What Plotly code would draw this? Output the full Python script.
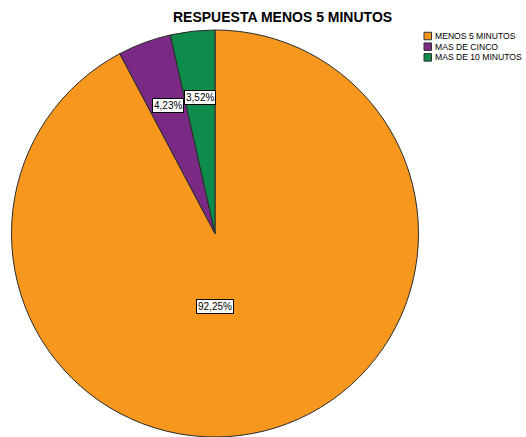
import math
import plotly.graph_objects as go

# Response-time categories and their percentages
labels = ["MENOS 5 MINUTOS", "MAS DE CINCO", "MAS DE 10 MINUTOS"]
values = [92.25, 4.23, 3.52]
colors = ["#F7971E", "#7A2A84", "#0E8C4C"]
title_text = "RESPUESTA MENOS 5 MINUTOS"

W, H = 526, 437

# Pie area in pixels (left, right, top, bottom)
px_left, px_right, px_top, px_bottom = 10, 420, 30, 437

fig = go.Figure(
    go.Pie(
        labels=labels,
        values=values,
        marker=dict(colors=colors, line=dict(color="#2a2a2a", width=1)),
        sort=False,
        direction="clockwise",
        rotation=0,
        textinfo="none",
        hoverinfo="label+percent",
        showlegend=False,
        domain=dict(
            x=[px_left / W, px_right / W],
            y=[1 - px_bottom / H, 1 - px_top / H],
        ),
    )
)

# Geometry of the drawn pie (radius follows the smaller domain side)
radius = min(px_right - px_left, px_bottom - px_top) / 2
cx = (px_left + px_right) / 2
cy = (px_top + px_bottom) / 2

total = sum(values)
annotations = []
cum = 0.0
for i, v in enumerate(values):
    mid = (cum + v / 2) / total * 2 * math.pi
    cum += v
    if v / total > 0.5:
        # large slice: label sits straight below the centre
        lx, ly = cx, cy + 0.36 * radius
    else:
        r = 0.67 * radius
        lx = cx + r * math.sin(mid)
        ly = cy - r * math.cos(mid)
    annotations.append(
        dict(
            x=lx / W,
            y=1 - ly / H,
            xref="paper",
            yref="paper",
            xanchor="center",
            yanchor="middle",
            text=f"{v:.2f}".replace(".", ",") + "%",
            showarrow=False,
            font=dict(family="Liberation Sans, Arial", size=10, color="black"),
            bgcolor="white",
            bordercolor="black",
            borderwidth=1,
            borderpad=1,
        )
    )

# Title
annotations.append(
    dict(
        x=282 / W,
        y=1 - 17 / H,
        xref="paper",
        yref="paper",
        xanchor="center",
        yanchor="middle",
        text=f"<b>{title_text}</b>",
        showarrow=False,
        font=dict(family="Liberation Sans, Arial", size=14, color="black"),
    )
)

# Legend: swatch + label per category
shapes = []
leg_x, leg_y0, leg_step, sw = 424, 36, 10.7, 7.5
for i, (lab, col) in enumerate(zip(labels, colors)):
    yc = leg_y0 + i * leg_step
    shapes.append(
        dict(
            type="rect",
            xref="paper",
            yref="paper",
            x0=leg_x / W,
            x1=(leg_x + sw) / W,
            y0=1 - (yc + sw / 2) / H,
            y1=1 - (yc - sw / 2) / H,
            fillcolor=col,
            line=dict(color="#333333", width=1),
        )
    )
    annotations.append(
        dict(
            x=(leg_x + sw + 1.5) / W,
            y=1 - yc / H,
            xref="paper",
            yref="paper",
            xanchor="left",
            yanchor="middle",
            text=lab,
            showarrow=False,
            font=dict(family="Liberation Sans, Arial", size=8.6, color="black"),
        )
    )

fig.update_layout(
    width=W,
    height=H,
    margin=dict(l=0, r=0, t=0, b=0),
    paper_bgcolor="white",
    plot_bgcolor="white",
    annotations=annotations,
    shapes=shapes,
)

fig.write_html("out.html")
